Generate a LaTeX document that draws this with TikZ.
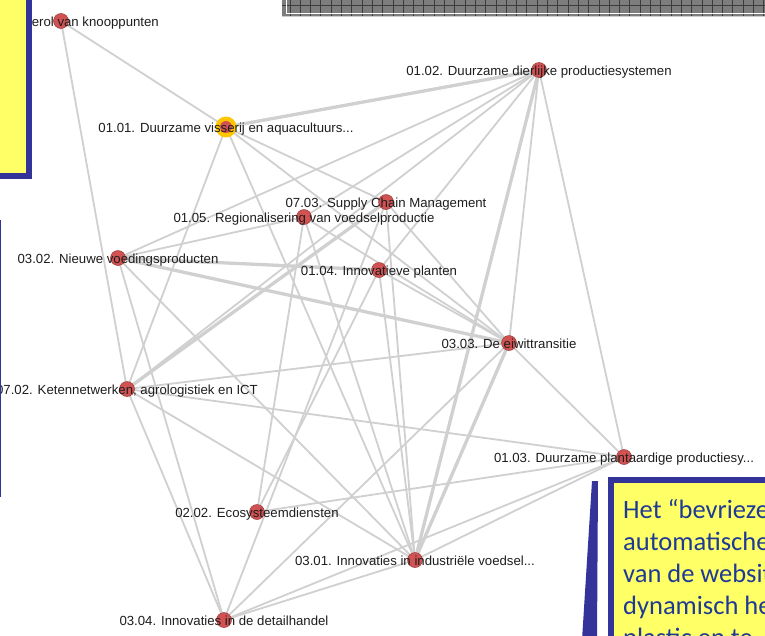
\documentclass[tikz,border=0pt]{standalone}
\usepackage{fontspec}
\setmainfont{Liberation Sans}
\newfontfamily\boxfont{Carlito}
\usetikzlibrary{backgrounds}
\definecolor{edgegray}{RGB}{208,208,208}
\definecolor{nodered}{RGB}{208,82,82}
\definecolor{nodeedge}{RGB}{155,58,58}
\definecolor{halo}{RGB}{255,198,0}
\definecolor{labeltext}{RGB}{30,30,30}
\definecolor{boxblue}{RGB}{51,51,153}
\definecolor{boxyellow}{RGB}{255,255,102}
\definecolor{boxtext}{RGB}{31,58,150}
\definecolor{bargray}{RGB}{125,125,125}
\definecolor{bardark}{RGB}{60,60,60}
\tikzset{
  edge/.style={draw=edgegray, line width=1.8pt},
  thickedge/.style={draw=edgegray, line width=3.3pt},
  vnode/.style={circle, fill=nodered, draw=nodeedge, line width=0.5pt, minimum size=15pt, inner sep=0pt},
  halonode/.style={circle, fill=halo, minimum size=21pt, inner sep=0pt},
  lbl/.style={font=\fontsize{13.2}{15}\selectfont, text=labeltext, anchor=base, inner sep=0pt},
  boxline/.style={font=\boxfont\fontsize{26.5}{30}\selectfont, text=boxtext, anchor=base west, inner sep=0pt}
}
\begin{document}
\begin{tikzpicture}[x=1pt,y=-1pt]
\useasboundingbox (0,0) rectangle (765,635);
\clip (0,0) rectangle (765,635);
% nodes
\node[vnode] (K) at (61,21) {};
\node[halonode] (A) at (226,127) {};
\node[vnode, draw=none, minimum size=12pt] (Ain) at (226,127) {};
\node[vnode] (B) at (539,70) {};
\node[vnode] (C) at (386,202) {};
\node[vnode] (D) at (304,217) {};
\node[vnode] (E) at (118,258) {};
\node[vnode] (F) at (379,270) {};
\node[vnode] (G) at (509,343) {};
\node[vnode] (H) at (127,389) {};
\node[vnode] (I) at (624,457) {};
\node[vnode] (J) at (257,512) {};
\node[vnode] (L) at (415,560) {};
\node[vnode] (M) at (224,620) {};
% edges
\begin{pgfonlayer}{background}
\fill[white] (0,0) rectangle (765,635);
\foreach \a/\b in {K/A,K/H,A/C,A/H,A/L,A/G,B/E,B/H,B/F,B/G,B/I,B/D,C/G,C/L,C/M,D/E,D/J,D/L,D/G,E/L,E/M,F/G,F/L,F/J,G/H,G/M,G/I,H/I,H/L,H/M,I/J,I/L,I/M,L/M}
  \draw[edge] (\a.center) -- (\b.center);
\foreach \a/\b in {A/B,E/F,E/G,B/L,G/L,H/C}
  \draw[thickedge] (\a.center) -- (\b.center);
\end{pgfonlayer}
% labels
\node[lbl] (lK) at (61,26.5) {07.01. Regierol van knooppunten};
\node[lbl] (lA) at (226,132.5) {01.01. Duurzame visserij en aquacultuurs...};
\node[lbl] (lB) at (539,75.5) {01.02. Duurzame dierlijke productiesystemen};
\node[lbl] (lC) at (386,207.5) {07.03. Supply Chain Management};
\node[lbl] (lD) at (304,222.5) {01.05. Regionalisering van voedselproductie};
\node[lbl] (lE) at (118,263.5) {03.02. Nieuwe voedingsproducten};
\node[lbl] (lF) at (379,275.5) {01.04. Innovatieve planten};
\node[lbl] (lG) at (509,348.5) {03.03. De eiwittransitie};
\node[lbl] (lH) at (127,394.5) {07.02. Ketennetwerken, agrologistiek en ICT};
\node[lbl] (lI) at (624,462.5) {01.03. Duurzame plantaardige productiesy...};
\node[lbl] (lJ) at (257,517.5) {02.02. Ecosysteemdiensten};
\node[lbl] (lL) at (415,565.5) {03.01. Innovaties in industriële voedsel...};
\node[lbl] (lM) at (224,625.5) {03.04. Innovaties in de detailhandel};
% top-left callout box
\draw[boxblue, line width=6pt, fill=boxyellow] (-10,-10) rectangle (29,176);
% left box edge
\draw[boxblue, line width=1.5pt] (0.5,220) -- (0.5,497);
% top hatched bar
\fill[bargray] (282,0) rectangle (770,16);
\foreach \x in {290,300.3,...,765} \draw[bardark, line width=1pt] (\x,0) -- (\x,16);
\draw[bardark, line width=0.7pt] (282,5) -- (770,5);
\draw[white, line width=0.8pt] (286,13) -- (770,13);
\draw[white, line width=0.8pt] (286,0) -- (286,13);
\draw[gray!40, line width=1pt] (282,16) -- (770,16);
% bottom-right callout
\fill[boxblue] (592,481) -- (598,481) -- (597,640) -- (582,640) -- cycle;
\draw[boxblue, line width=6pt, fill=boxyellow] (611,480) rectangle (790,660);
\node[boxline] (t1) at (623,518) {Het “bevriezen” van de};
\node[boxline] (t2) at (623,550) {automatische layout};
\node[boxline] (t3) at (623,582) {van de website maakt};
\node[boxline] (t4) at (623,614) {dynamisch het beeld};
\node[boxline] (t5) at (623,646) {plastic en te};
\end{tikzpicture}
\end{document}
